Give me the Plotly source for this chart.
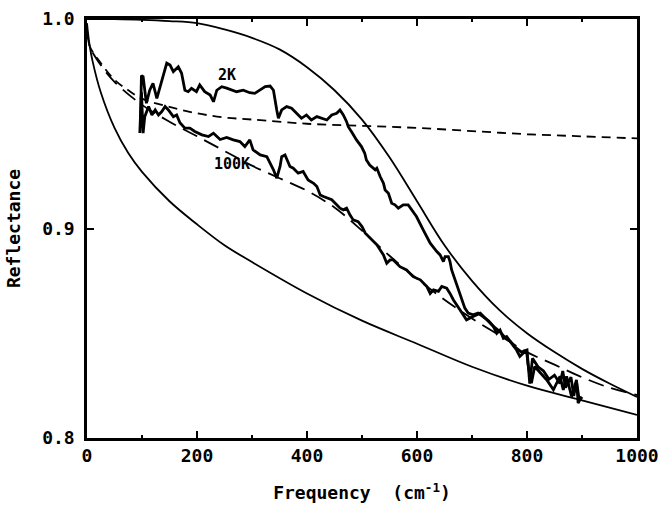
import plotly.graph_objects as go

# Upper smooth solid curve
upper_x = [0, 50, 100, 150, 200, 250, 300, 350, 400, 450, 500, 550, 600, 650, 700, 750, 800, 850, 900, 950, 1000]
upper_y = [1.0, 0.9999, 0.9996, 0.999, 0.998, 0.995, 0.991, 0.9855, 0.977, 0.966, 0.952, 0.934, 0.913, 0.892, 0.875, 0.861, 0.850, 0.841, 0.833, 0.826, 0.8196]

# Lower smooth solid curve
lower_x = [0, 2, 5, 10, 25, 50, 75, 100, 150, 200, 250, 300, 400, 500, 600, 700, 800, 900, 1000]
lower_y = [0.998, 0.993, 0.987, 0.980, 0.965, 0.948, 0.936, 0.927, 0.913, 0.902, 0.892, 0.884, 0.869, 0.856, 0.845, 0.834, 0.825, 0.818, 0.811]

# Dashed fit through 2K data (flat)
fit2k_x = [0, 5, 25, 50, 75, 100, 150, 200, 250, 300, 400, 500, 600, 700, 800, 900, 1000]
fit2k_y = [0.995, 0.987, 0.979, 0.971, 0.966, 0.962, 0.958, 0.955, 0.953, 0.952, 0.950, 0.949, 0.948, 0.9465, 0.945, 0.944, 0.943]

# Dashed fit through 100K data
fit100k_x = [0, 5, 25, 50, 100, 150, 200, 250, 300, 350, 400, 450, 500, 550, 600, 650, 700, 750, 800, 850, 900, 950, 1000]
fit100k_y = [0.995, 0.987, 0.978, 0.970, 0.959, 0.951, 0.944, 0.937, 0.930, 0.924, 0.918, 0.910, 0.899, 0.887, 0.876, 0.866, 0.857, 0.849, 0.841, 0.835, 0.829, 0.824, 0.8205]

# 2K measured reflectance
r2k_x = [97, 99, 102, 108, 114, 120, 127, 133, 139, 145, 151, 157, 166, 172, 178, 184, 190, 199, 205,
         214, 224, 230, 236, 245, 254, 263, 272, 284, 296, 305, 314, 324, 333, 339, 345, 348, 354,
         363, 372, 381, 390, 399, 408, 418, 427, 436, 445, 454, 460, 466, 472, 475, 481, 490, 499,
         505, 508, 514, 524, 527, 533, 539, 542, 548, 554, 560, 566, 575, 584, 590, 599, 612, 624,
         636, 642, 648, 651, 657, 660, 663, 669, 675, 681, 687, 693, 702, 711, 720, 730, 740, 750,
         760, 770, 780, 790, 800, 805, 810, 820, 830, 840, 850, 860, 865, 870, 880, 885, 890, 895, 900]
r2k_y = [0.948, 0.973, 0.9725, 0.9598, 0.966, 0.9693, 0.9621, 0.9677, 0.9725, 0.9789, 0.978, 0.9749,
         0.9772, 0.9741, 0.966, 0.9653, 0.9669, 0.9653, 0.9685, 0.9653, 0.9637, 0.9605, 0.966, 0.9677,
         0.967, 0.966, 0.9653, 0.966, 0.9648, 0.9645, 0.966, 0.9677, 0.968, 0.966, 0.9566, 0.9526,
         0.9566, 0.9582, 0.9574, 0.955, 0.9526, 0.9542, 0.9518, 0.9534, 0.9526, 0.9518, 0.9542, 0.955,
         0.9566, 0.9542, 0.951, 0.9486, 0.9462, 0.9423, 0.9391, 0.9359, 0.9327, 0.9303, 0.928, 0.9288,
         0.9248, 0.9216, 0.9184, 0.9168, 0.9121, 0.9113, 0.9097, 0.9113, 0.9113, 0.9089, 0.9057,
         0.899, 0.893, 0.889, 0.8874, 0.8842, 0.8866, 0.8866, 0.8842, 0.8802, 0.8755, 0.8707, 0.866,
         0.862, 0.8596, 0.8588, 0.8596, 0.858, 0.856, 0.853, 0.851, 0.848, 0.846, 0.843, 0.841, 0.842,
         0.826, 0.838, 0.834, 0.832, 0.828, 0.830, 0.826, 0.832, 0.824, 0.829, 0.820, 0.827, 0.818, 0.8195]

# 100K measured reflectance
r100k_x = [96, 99, 102, 105, 112, 118, 124, 130, 136, 142, 148, 157, 163, 169, 178, 187, 196, 209,
           221, 230, 242, 254, 266, 278, 287, 296, 302, 315, 327, 333, 339, 345, 351, 354, 360, 369,
           375, 384, 393, 402, 412, 418, 424, 430, 436, 445, 454, 460, 466, 472, 478, 484, 493, 500,
           506, 515, 527, 539, 545, 551, 557, 569, 581, 593, 606, 618, 624, 630, 639, 645, 654, 660,
           666, 678, 690, 702, 715, 727, 739, 745, 751, 757, 763, 772, 781, 787, 793, 799, 802, 808,
           814, 824, 836, 848, 860, 866, 872, 881, 890, 893, 899]
r100k_y = [0.9456, 0.965, 0.9455, 0.9534, 0.9582, 0.9542, 0.9566, 0.9542, 0.9558, 0.9582, 0.9566,
           0.9534, 0.9542, 0.9505, 0.9479, 0.9479, 0.9463, 0.9447, 0.9439, 0.9455, 0.9425, 0.9435,
           0.9423, 0.9415, 0.9391, 0.9423, 0.9375, 0.9351, 0.9343, 0.9312, 0.928, 0.924, 0.9296,
           0.9343, 0.9351, 0.9296, 0.9288, 0.9264, 0.9272, 0.9232, 0.9216, 0.92, 0.916, 0.9153,
           0.9145, 0.9137, 0.9113, 0.9097, 0.9089, 0.9097, 0.9065, 0.9041, 0.9033, 0.9009, 0.8978,
           0.8954, 0.8922, 0.8874, 0.8834, 0.885, 0.885, 0.8818, 0.8802, 0.877, 0.8755, 0.8723,
           0.869, 0.8707, 0.870, 0.8723, 0.8715, 0.869, 0.866, 0.8612, 0.8564, 0.858, 0.8596, 0.8564,
           0.8532, 0.850, 0.8516, 0.8476, 0.8484, 0.8452, 0.842, 0.8389, 0.8405, 0.842, 0.8349,
           0.8262, 0.8341, 0.831, 0.8277, 0.823, 0.8294, 0.823, 0.8294, 0.8198, 0.8277, 0.8166, 0.8198]

x_ticks = [0, 200, 400, 600, 800, 1000]
x_tick_labels = ["0", "200", "400", "600", "800", "1000"]
y_ticks = [0.8, 0.9, 1.0]
y_tick_labels = ["0.8", "0.9", "1.0"]

labels = [("2K", 254, 0.9735), ("100K", 263, 0.931)]

fig = go.Figure()
fig.add_trace(go.Scatter(x=upper_x, y=upper_y, mode="lines", line=dict(color="black", width=1.8, shape="spline")))
fig.add_trace(go.Scatter(x=lower_x, y=lower_y, mode="lines", line=dict(color="black", width=1.8, shape="spline")))
fig.add_trace(go.Scatter(x=fit2k_x, y=fit2k_y, mode="lines", line=dict(color="black", width=1.8, dash="9px,6px", shape="spline")))
fig.add_trace(go.Scatter(x=fit100k_x, y=fit100k_y, mode="lines", line=dict(color="black", width=1.8, dash="16px,8px", shape="spline")))
fig.add_trace(go.Scatter(x=r2k_x, y=r2k_y, mode="lines", line=dict(color="black", width=2.8)))
fig.add_trace(go.Scatter(x=r100k_x, y=r100k_y, mode="lines", line=dict(color="black", width=2.8)))

for text, xx, yy in labels:
    fig.add_annotation(x=xx, y=yy, text=text, showarrow=False,
                       font=dict(family="DejaVu Sans Mono", size=15, color="black", weight="bold"))

axis_font = dict(family="DejaVu Sans Mono", size=18, color="black", weight="bold")
fig.update_layout(
    width=659, height=508,
    margin=dict(l=87, r=22, t=19, b=70),
    paper_bgcolor="white", plot_bgcolor="white",
    showlegend=False,
    xaxis=dict(range=[0, 1000], tickvals=x_ticks, ticktext=x_tick_labels,
               ticks="inside", ticklen=7, tickwidth=2, tickcolor="black",
               showline=True, linecolor="black", linewidth=2.5, mirror="ticks",
               showgrid=False, zeroline=False, tickfont=axis_font, automargin=False,
               minor=dict(tickvals=[100, 300, 500, 700, 900], ticks="inside", ticklen=3, tickwidth=2, tickcolor="black"),
               title=dict(text="Frequency  (cm<sup>-1</sup>)", font=axis_font, standoff=22)),
    yaxis=dict(range=[0.8, 1.0], tickvals=y_ticks, ticktext=y_tick_labels,
               ticks="inside", ticklen=7, tickwidth=2, tickcolor="black",
               showline=True, linecolor="black", linewidth=2.5, mirror="ticks",
               showgrid=False, zeroline=False, tickfont=axis_font, automargin=False,
               ticklabelstandoff=6,
               title=dict(text="Reflectance", font=axis_font, standoff=17)),
)

fig.write_html("out.html", config={"displayModeBar": False},
               post_script="document.body.style.margin='0';document.body.style.overflow='hidden';")
